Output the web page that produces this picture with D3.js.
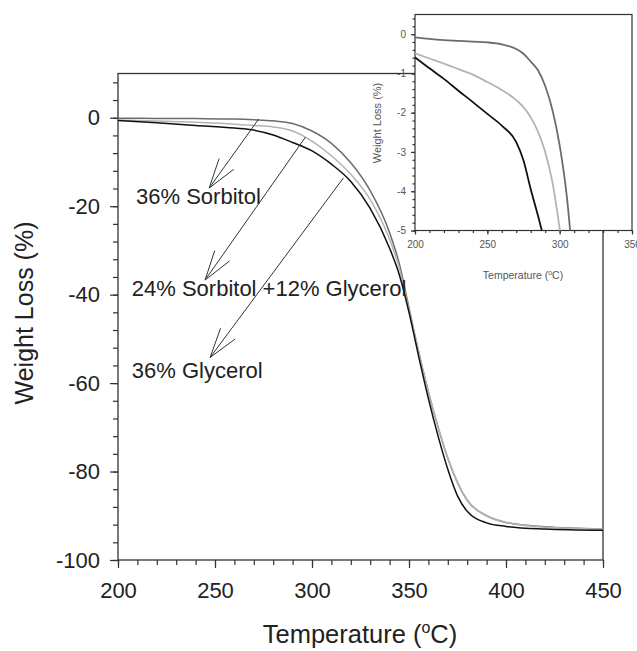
<!DOCTYPE html>
<html>
<head>
<meta charset="utf-8">
<script src="https://cdn.jsdelivr.net/npm/d3@7"></script>
<style>
  body { margin: 0; background: #fff; }
  svg { display: block; font-family: "Liberation Sans", Arial, sans-serif; }
</style>
</head>
<body>
<svg id="chart" width="637" height="651"></svg>
<script>
// main plot data (temperature in C, weight loss in %)
var temps =    [200, 220, 240, 260, 270, 280, 290, 300, 310, 320, 330, 340, 345, 350, 355, 360, 365, 370, 375, 380, 390, 400, 420, 450];
var sorbitol = [-0.1, -0.15, -0.2, -0.3, -0.45, -0.7, -1.3, -3.0, -5.8, -10.2, -16.5, -26, -33, -43, -53, -62, -70, -77, -82.5, -86.5, -90, -91.5, -92.5, -93];
var mixed =    [-0.5, -0.75, -1.05, -1.45, -1.75, -2.1, -3.0, -5.3, -8.6, -12.8, -18.5, -27.5, -34, -43.5, -53, -62, -70, -77, -82.5, -86.5, -90, -91.5, -92.6, -93];
var glycerol = [-0.6, -1.15, -1.75, -2.35, -2.8, -3.9, -5.6, -7.5, -10.5, -14.4, -20.5, -29.5, -35.5, -44, -54, -63.5, -72, -79.5, -85.5, -89, -91.6, -92.4, -93, -93.3];

// inset data
var insetTemps =    [200, 210, 220, 230, 240, 250, 260, 270, 275, 280, 285, 290, 295, 300, 305, 310];
var insetSorbitol = [-0.08, -0.12, -0.15, -0.17, -0.19, -0.21, -0.26, -0.38, -0.5, -0.7, -0.92, -1.32, -1.93, -2.83, -4.15, -6.2];
var insetMixed =    [-0.49, -0.62, -0.75, -0.89, -1.03, -1.22, -1.42, -1.68, -1.86, -2.12, -2.48, -3.0, -3.77, -4.95, -6.3, -7.6];
var insetGlycerol = [-0.59, -0.87, -1.14, -1.44, -1.73, -2.03, -2.33, -2.75, -3.22, -3.95, -4.62, -5.35, -6.1, -6.9, -7.7, -8.5];

var xTicks = [200, 250, 300, 350, 400, 450];
var yTicks = [0, -20, -40, -60, -80, -100];
var insetXTicks = [200, 250, 300, 350];
var insetYTicks = [0, -1, -2, -3, -4, -5];

var seriesNames = ["36% Sorbitol", "24% Sorbitol +12% Glycerol", "36% Glycerol"];
var seriesColors = ["#6c6c6c", "#b4b4b4", "#111111"];

// annotation arrows, in data units: curve point -> arrow tip
var arrowFrom = [[272.5, -0.3], [296.6, -4.4], [316.2, -13.6]];
var arrowTo = [[247, -15.9], [244.9, -36.7], [247.5, -54.2]];
var labelPos = [[209.3, -19.4], [207.1, -40.2], [207.1, -58.8]];

var svg = d3.select("#chart");
var plain = function(d) { return String(d); };  // keep ascii hyphen like the original

// ---------- main plot ----------
var x = d3.scaleLinear().domain([200, 450]).range([118, 603]);
var y = d3.scaleLinear().domain([10, -100]).range([73.5, 560]);

var axisColor = "#333";
var textColor = "#222";

function styleAxis(g, labelSize, color) {
  g.select(".domain").remove();
  g.selectAll("line").attr("stroke", axisColor).attr("stroke-width", 1.2);
  g.selectAll("text").attr("font-size", labelSize).attr("fill", color)
    .attr("font-family", "Liberation Sans, Arial, sans-serif");
}

// minor ticks
svg.append("g")
  .attr("transform", "translate(0,560)")
  .call(d3.axisBottom(x).tickValues(d3.range(200, 451, 10)).tickSize(5).tickFormat(""))
  .call(styleAxis, 22, textColor);
svg.append("g")
  .attr("transform", "translate(118,0)")
  .call(d3.axisLeft(y).tickValues(d3.range(8, -101, -4)).tickSize(5).tickFormat(""))
  .call(styleAxis, 22, textColor);

// major ticks
svg.append("g")
  .attr("transform", "translate(0,560)")
  .call(d3.axisBottom(x).tickValues(xTicks).tickSize(8).tickPadding(14).tickFormat(plain))
  .call(styleAxis, 22, textColor);
svg.append("g")
  .attr("transform", "translate(118,0)")
  .call(d3.axisLeft(y).tickValues(yTicks).tickSize(8).tickPadding(10).tickFormat(plain))
  .call(styleAxis, 22, textColor);

// frame
svg.append("rect")
  .attr("x", x(200)).attr("y", y(10))
  .attr("width", x(450) - x(200)).attr("height", y(-100) - y(10))
  .attr("fill", "none").attr("stroke", axisColor).attr("stroke-width", 1.3);

var line = d3.line()
  .curve(d3.curveMonotoneX)
  .x(function(d) { return x(d[0]); })
  .y(function(d) { return y(d[1]); });

[sorbitol, mixed, glycerol].forEach(function(vals, i) {
  svg.append("path")
    .datum(temps.map(function(t, j) { return [t, vals[j]]; }))
    .attr("fill", "none")
    .attr("stroke", seriesColors[i])
    .attr("stroke-width", 1.5)
    .attr("d", line);
});

// arrows + labels
arrowFrom.forEach(function(from, i) {
  var x0 = x(from[0]), y0 = y(from[1]);
  var x1 = x(arrowTo[i][0]), y1 = y(arrowTo[i][1]);
  var back = Math.atan2(y0 - y1, x0 - x1);
  var spread = 17 * Math.PI / 180;
  var len = 31;
  var g = svg.append("g").attr("stroke", "#333").attr("stroke-width", 1).attr("fill", "none");
  g.append("line").attr("x1", x0).attr("y1", y0).attr("x2", x1).attr("y2", y1);
  [-spread, spread].forEach(function(a) {
    g.append("line")
      .attr("x1", x1).attr("y1", y1)
      .attr("x2", x1 + len * Math.cos(back + a))
      .attr("y2", y1 + len * Math.sin(back + a));
  });
  svg.append("text")
    .attr("x", x(labelPos[i][0])).attr("y", y(labelPos[i][1]))
    .attr("font-size", 22).attr("fill", textColor)
    .text(seriesNames[i]);
});

// axis titles
var xt = svg.append("text")
  .attr("x", 360).attr("y", 643)
  .attr("text-anchor", "middle")
  .attr("font-size", 25.5).attr("fill", textColor);
xt.append("tspan").text("Temperature (");
xt.append("tspan").attr("font-size", 16).attr("dy", -10).text("o");
xt.append("tspan").attr("dy", 10).text("C)");

svg.append("text")
  .attr("transform", "translate(33,313) rotate(-90)")
  .attr("text-anchor", "middle")
  .attr("font-size", 25).attr("fill", textColor)
  .text("Weight Loss (%)");

// ---------- inset ----------
var ix = d3.scaleLinear().domain([200, 350]).range([415, 632]);
var iy = d3.scaleLinear().domain([0.5, -5]).range([14.5, 230.5]);
var insetText = "#555";

svg.append("rect")
  .attr("x", ix(200)).attr("y", iy(0.5))
  .attr("width", ix(350) - ix(200)).attr("height", iy(-5) - iy(0.5))
  .attr("fill", "#fff").attr("stroke", axisColor).attr("stroke-width", 1.2);

svg.append("g")
  .attr("transform", "translate(0," + iy(-5) + ")")
  .call(d3.axisBottom(ix).tickValues(d3.range(200, 351, 10)).tickSize(2.5).tickFormat(""))
  .call(styleAxis, 10, insetText);
svg.append("g")
  .attr("transform", "translate(" + ix(200) + ",0)")
  .call(d3.axisLeft(iy).tickValues(d3.range(0.4, -5.01, -0.2)).tickSize(2.5).tickFormat(""))
  .call(styleAxis, 10, insetText);
svg.append("g")
  .attr("transform", "translate(0," + iy(-5) + ")")
  .call(d3.axisBottom(ix).tickValues(insetXTicks).tickSize(4).tickPadding(6).tickFormat(plain))
  .call(styleAxis, 10, insetText);
svg.append("g")
  .attr("transform", "translate(" + ix(200) + ",0)")
  .call(d3.axisLeft(iy).tickValues(insetYTicks).tickSize(4).tickPadding(5).tickFormat(plain))
  .call(styleAxis, 10, insetText);

svg.append("clipPath").attr("id", "insetClip")
  .append("rect")
  .attr("x", ix(200)).attr("y", iy(0.5))
  .attr("width", ix(350) - ix(200)).attr("height", iy(-5) - iy(0.5));

var iline = d3.line()
  .curve(d3.curveMonotoneX)
  .x(function(d) { return ix(d[0]); })
  .y(function(d) { return iy(d[1]); });

[insetSorbitol, insetMixed, insetGlycerol].forEach(function(vals, i) {
  svg.append("path")
    .datum(insetTemps.map(function(t, j) { return [t, vals[j]]; }))
    .attr("clip-path", "url(#insetClip)")
    .attr("fill", "none")
    .attr("stroke", seriesColors[i])
    .attr("stroke-width", 1.8)
    .attr("d", iline);
});

var ixt = svg.append("text")
  .attr("x", 523).attr("y", 279)
  .attr("text-anchor", "middle")
  .attr("font-size", 10.5).attr("fill", insetText);
ixt.append("tspan").text("Temperature (");
ixt.append("tspan").attr("font-size", 7).attr("dy", -4).text("o");
ixt.append("tspan").attr("dy", 4).text("C)");

svg.append("text")
  .attr("transform", "translate(381,123) rotate(-90)")
  .attr("text-anchor", "middle")
  .attr("font-size", 11).attr("fill", insetText)
  .text("Weight Loss (%)");
</script>
</body>
</html>
